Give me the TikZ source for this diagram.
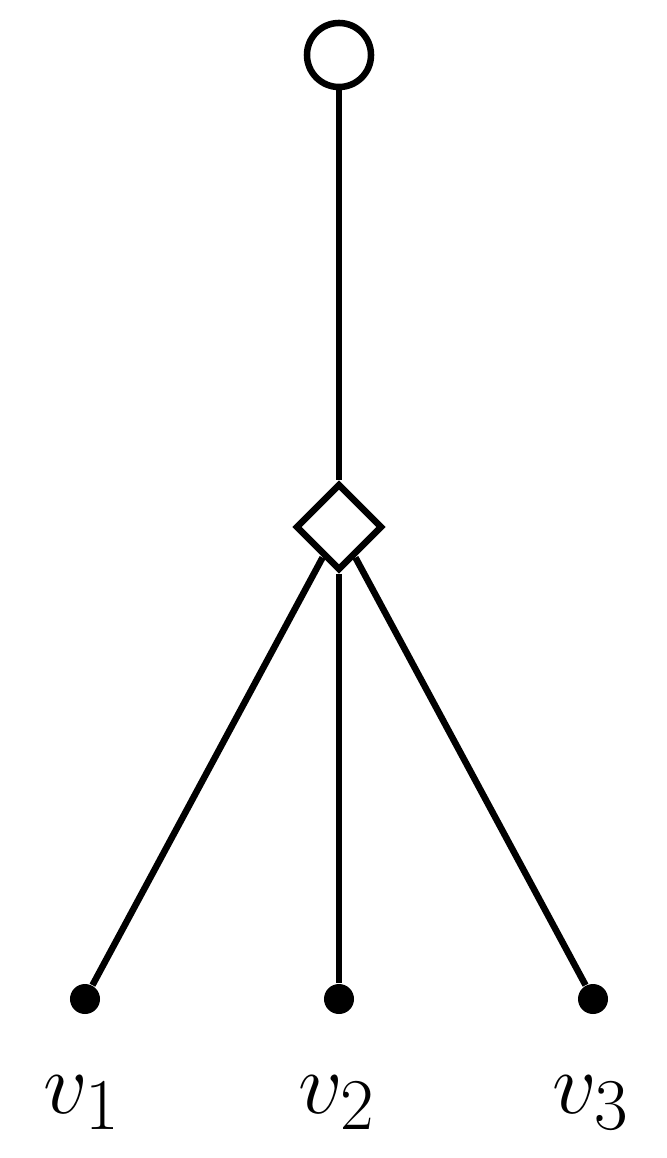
\documentclass[tikz,border=0pt]{standalone}
\usetikzlibrary{shapes.geometric}
\begin{document}
\begin{tikzpicture}[x=0.01cm,y=-0.01cm,
  edge/.style={line width=0.065cm},
  topnode/.style={circle,draw,line width=0.065cm,minimum size=0.64cm,inner sep=0pt},
  gate/.style={diamond,draw,line width=0.065cm,minimum size=0.87cm,inner sep=0pt,outer sep=0.035cm},
  leaf/.style={circle,fill,minimum size=0.30cm,inner sep=0pt},
  lab/.style={font=\Huge,anchor=base,inner sep=0pt}]
\useasboundingbox (0,0) rectangle (666,1158);
\node[topnode] (r) at (339,55) {};
\node[gate] (g) at (339,527) {};
\node[leaf] (a) at (85,999) {};
\node[leaf] (b) at (339,999) {};
\node[leaf] (c) at (593,999) {};
\node[lab] (la) at (82,1113) {$v_1$};
\node[lab] (lb) at (337,1113) {$v_2$};
\node[lab] (lc) at (591,1113) {$v_3$};
\draw[edge] (r) -- (g);
\draw[edge] (g) -- (a);
\draw[edge] (g) -- (b);
\draw[edge] (g) -- (c);
\end{tikzpicture}
\end{document}
